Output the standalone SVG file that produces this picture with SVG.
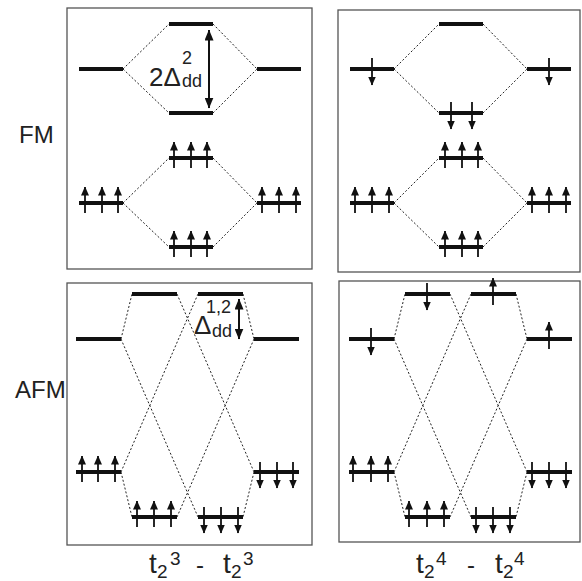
<svg xmlns="http://www.w3.org/2000/svg" width="582" height="581" viewBox="0 0 582 581">
<defs>
<marker id="ah" viewBox="0 0 9 8" refX="8.5" refY="4" markerWidth="9" markerHeight="8" markerUnits="userSpaceOnUse" orient="auto-start-reverse"><path d="M0,0 L9,4 L0,8 z" fill="#111"/></marker>
<marker id="ah2" viewBox="0 0 11 9" refX="10.5" refY="4.5" markerWidth="11" markerHeight="9" markerUnits="userSpaceOnUse" orient="auto-start-reverse"><path d="M0,0 L11,4.5 L0,9 z" fill="#111"/></marker>
</defs>
<style>
.frame{fill:none;stroke:#555;stroke-width:1.3}
.lvl{stroke:#111;stroke-width:4;fill:none}
.sp{stroke:#111;stroke-width:1.8;marker-end:url(#ah)}
.dbl{stroke:#111;stroke-width:2;marker-start:url(#ah2);marker-end:url(#ah2)}
.dot{stroke:#222;stroke-width:1;stroke-dasharray:2 2;fill:none}
text{font-family:"Liberation Sans",Arial,sans-serif;fill:#222}
.big{font-size:24px}
.dl{font-size:26px}
.sm{font-size:18px}
.t{font-size:28px}
.s2{font-size:19px}
</style>
<rect width="582" height="581" fill="#fff"/>

<g id="frames">
<rect class="frame" x="67" y="8" width="245" height="261"/>
<rect class="frame" x="338" y="10" width="242" height="262"/>
<rect class="frame" x="67" y="283" width="245" height="262"/>
<rect class="frame" x="339" y="281" width="241" height="261"/>
</g>

<g id="connectors">
<path class="dot" d="M123,69 L169,24 M123,69 L169,113 M213,24 L257,69 M213,113 L257,69"/>
<path class="dot" d="M123,203 L169,158 M123,203 L169,247 M213,158 L257,203 M213,247 L257,203"/>
<path class="dot" d="M394,69 L439,24 M394,69 L439,113 M483,24 L527,69 M483,113 L527,69"/>
<path class="dot" d="M394,203 L439,158 M394,203 L439,247 M483,158 L527,203 M483,247 L527,203"/>
<path class="dot" d="M121,339 L132,294 M121,339 L198,517 M177,294 L254,472 M198,294 L121,472 M243,294 L254,339 M254,339 L177,517 M121,472 L132,517 M254,472 L243,517"/>
<path class="dot" d="M394,339 L405,294 M394,339 L471,517 M450,294 L527,472 M471,294 L394,472 M516,294 L527,339 M527,339 L450,517 M394,472 L405,517 M527,472 L516,517"/>
</g>

<g id="fm-t3">
<g id="tl_a"><line class="lvl" x1="79" y1="69" x2="123" y2="69"/></g>
<g id="tl_b"><line class="lvl" x1="169" y1="24" x2="213" y2="24"/></g>
<g id="tl_c"><line class="lvl" x1="169" y1="113" x2="213" y2="113"/></g>
<g id="tl_d"><line class="lvl" x1="257" y1="69" x2="301" y2="69"/></g>
<g id="tl_gap"><line class="dbl" x1="209" y1="30" x2="209" y2="108"/>
<text class="dl" x="149" y="86">2Δ</text><text class="sm" x="182" y="64">2</text><text class="sm" x="182" y="87">dd</text></g>
<g id="tl_e"><line class="lvl" x1="79" y1="203" x2="123" y2="203"/>
<line class="sp" x1="85" y1="213" x2="85" y2="187"/><line class="sp" x1="102" y1="213" x2="102" y2="187"/><line class="sp" x1="118" y1="213" x2="118" y2="187"/></g>
<g id="tl_f"><line class="lvl" x1="169" y1="158" x2="213" y2="158"/>
<line class="sp" x1="174" y1="168" x2="174" y2="142"/><line class="sp" x1="191" y1="168" x2="191" y2="142"/><line class="sp" x1="207" y1="168" x2="207" y2="142"/></g>
<g id="tl_g"><line class="lvl" x1="169" y1="247" x2="213" y2="247"/>
<line class="sp" x1="174" y1="257" x2="174" y2="231"/><line class="sp" x1="191" y1="257" x2="191" y2="231"/><line class="sp" x1="207" y1="257" x2="207" y2="231"/></g>
<g id="tl_h"><line class="lvl" x1="257" y1="203" x2="301" y2="203"/>
<line class="sp" x1="262" y1="213" x2="262" y2="187"/><line class="sp" x1="279" y1="213" x2="279" y2="187"/><line class="sp" x1="296" y1="213" x2="296" y2="187"/></g>
</g>

<g id="fm-t4">
<g id="tr_a"><line class="lvl" x1="350" y1="69" x2="394" y2="69"/><line class="sp" x1="372" y1="58" x2="372" y2="85"/></g>
<g id="tr_b"><line class="lvl" x1="439" y1="24" x2="483" y2="24"/></g>
<g id="tr_c"><line class="lvl" x1="439" y1="113" x2="483" y2="113"/><line class="sp" x1="451" y1="102" x2="451" y2="129"/><line class="sp" x1="472" y1="102" x2="472" y2="129"/></g>
<g id="tr_d"><line class="lvl" x1="527" y1="69" x2="571" y2="69"/><line class="sp" x1="549" y1="58" x2="549" y2="85"/></g>
<g id="tr_e"><line class="lvl" x1="350" y1="203" x2="394" y2="203"/>
<line class="sp" x1="355" y1="213" x2="355" y2="187"/><line class="sp" x1="372" y1="213" x2="372" y2="187"/><line class="sp" x1="389" y1="213" x2="389" y2="187"/></g>
<g id="tr_f"><line class="lvl" x1="439" y1="158" x2="483" y2="158"/>
<line class="sp" x1="445" y1="168" x2="445" y2="142"/><line class="sp" x1="462" y1="168" x2="462" y2="142"/><line class="sp" x1="478" y1="168" x2="478" y2="142"/></g>
<g id="tr_g"><line class="lvl" x1="439" y1="247" x2="483" y2="247"/>
<line class="sp" x1="445" y1="257" x2="445" y2="231"/><line class="sp" x1="462" y1="257" x2="462" y2="231"/><line class="sp" x1="478" y1="257" x2="478" y2="231"/></g>
<g id="tr_h"><line class="lvl" x1="527" y1="203" x2="571" y2="203"/>
<line class="sp" x1="532" y1="213" x2="532" y2="187"/><line class="sp" x1="549" y1="213" x2="549" y2="187"/><line class="sp" x1="566" y1="213" x2="566" y2="187"/></g>
</g>

<g id="afm-t3">
<g id="bl_a"><line class="lvl" x1="76" y1="339" x2="121" y2="339"/></g>
<g id="bl_b"><line class="lvl" x1="132" y1="294" x2="177" y2="294"/></g>
<g id="bl_c"><line class="lvl" x1="198" y1="294" x2="243" y2="294"/></g>
<g id="bl_d"><line class="lvl" x1="254" y1="339" x2="299" y2="339"/></g>
<g id="bl_gap"><line class="dbl" x1="239" y1="299" x2="239" y2="339"/>
<text class="dl" x="194" y="334">Δ</text><text class="sm" x="206" y="313">1,2</text><text class="sm" x="212" y="337">dd</text></g>
<g id="bl_e"><line class="lvl" x1="76" y1="472" x2="121" y2="472"/>
<line class="sp" x1="82" y1="482" x2="82" y2="456"/><line class="sp" x1="98" y1="482" x2="98" y2="456"/><line class="sp" x1="115" y1="482" x2="115" y2="456"/></g>
<g id="bl_f"><line class="lvl" x1="132" y1="517" x2="177" y2="517"/>
<line class="sp" x1="137" y1="527" x2="137" y2="501"/><line class="sp" x1="154" y1="527" x2="154" y2="501"/><line class="sp" x1="171" y1="527" x2="171" y2="501"/></g>
<g id="bl_g"><line class="lvl" x1="198" y1="517" x2="243" y2="517"/>
<line class="sp" x1="204" y1="507" x2="204" y2="533"/><line class="sp" x1="221" y1="507" x2="221" y2="533"/><line class="sp" x1="238" y1="507" x2="238" y2="533"/></g>
<g id="bl_h"><line class="lvl" x1="254" y1="472" x2="299" y2="472"/>
<line class="sp" x1="260" y1="462" x2="260" y2="488"/><line class="sp" x1="277" y1="462" x2="277" y2="488"/><line class="sp" x1="293" y1="462" x2="293" y2="488"/></g>
</g>

<g id="afm-t4">
<g id="br_a"><line class="lvl" x1="349" y1="339" x2="394" y2="339"/><line class="sp" x1="371" y1="328" x2="371" y2="355"/></g>
<g id="br_b"><line class="lvl" x1="405" y1="294" x2="450" y2="294"/><line class="sp" x1="427" y1="283" x2="427" y2="310"/></g>
<g id="br_c"><line class="lvl" x1="471" y1="294" x2="516" y2="294"/><line class="sp" x1="493" y1="305" x2="493" y2="278"/></g>
<g id="br_d"><line class="lvl" x1="527" y1="339" x2="572" y2="339"/><line class="sp" x1="549" y1="349" x2="549" y2="322"/></g>
<g id="br_e"><line class="lvl" x1="349" y1="472" x2="394" y2="472"/>
<line class="sp" x1="353" y1="482" x2="353" y2="456"/><line class="sp" x1="371" y1="482" x2="371" y2="456"/><line class="sp" x1="388" y1="482" x2="388" y2="456"/></g>
<g id="br_f"><line class="lvl" x1="405" y1="517" x2="450" y2="517"/>
<line class="sp" x1="409" y1="527" x2="409" y2="501"/><line class="sp" x1="427" y1="527" x2="427" y2="501"/><line class="sp" x1="444" y1="527" x2="444" y2="501"/></g>
<g id="br_g"><line class="lvl" x1="471" y1="517" x2="516" y2="517"/>
<line class="sp" x1="476" y1="507" x2="476" y2="533"/><line class="sp" x1="493" y1="507" x2="493" y2="533"/><line class="sp" x1="510" y1="507" x2="510" y2="533"/></g>
<g id="br_h"><line class="lvl" x1="527" y1="472" x2="572" y2="472"/>
<line class="sp" x1="532" y1="462" x2="532" y2="488"/><line class="sp" x1="549" y1="462" x2="549" y2="488"/><line class="sp" x1="566" y1="462" x2="566" y2="488"/></g>
</g>

<g id="labels">
<text class="big" x="19" y="143">FM</text>
<text class="big" x="15" y="398">AFM</text>
<text class="t" x="149" y="573">t</text><text class="s2" x="157" y="578">2</text><text class="s2" x="170" y="565">3</text>
<text class="big" x="196" y="573">-</text>
<text class="t" x="223" y="573">t</text><text class="s2" x="231" y="578">2</text><text class="s2" x="243" y="565">3</text>
<text class="t" x="416" y="573">t</text><text class="s2" x="424" y="578">2</text><text class="s2" x="436" y="565">4</text>
<text class="big" x="467" y="573">-</text>
<text class="t" x="495" y="573">t</text><text class="s2" x="503" y="578">2</text><text class="s2" x="514" y="565">4</text>
</g>
</svg>
